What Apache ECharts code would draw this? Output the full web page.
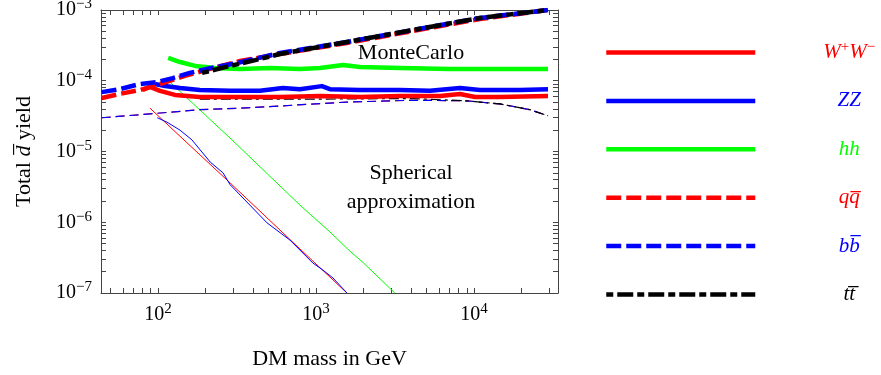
<!DOCTYPE html>
<html>
<head>
<meta charset="utf-8">
<script src="https://cdn.jsdelivr.net/npm/echarts@6/dist/echarts.min.js"></script>
<style>
  html, body { margin: 0; padding: 0; background: #fff; }
  #chart { width: 881px; height: 375px; }
</style>
</head>
<body>
<div id="chart"></div>
<script>
// MonteCarlo curves: [DM mass in GeV, total dbar yield]
const wwMC = [[80, 7.4e-5], [89, 8.2e-5], [103, 7.2e-5], [128, 6.3e-5], [184, 5.9e-5], [331, 5.9e-5], [591, 5.9e-5], [1058, 6.1e-5], [1898, 5.9e-5], [3397, 6.1e-5], [6090, 6.1e-5], [8150, 6.5e-5], [10150, 5.9e-5], [14580, 5.9e-5], [29400, 6.1e-5]];
const zzMC = [[96, 9.0e-5], [111, 8.4e-5], [138, 7.9e-5], [184, 7.4e-5], [286, 7.2e-5], [442, 7.2e-5], [617, 7.9e-5], [791, 7.6e-5], [1089, 8.4e-5], [1225, 7.6e-5], [1898, 7.4e-5], [3397, 7.4e-5], [5268, 7.2e-5], [8150, 7.9e-5], [10900, 7.4e-5], [19510, 7.4e-5], [29400, 7.6e-5]];
const hhMC = [[116, 2.1e-4], [138, 1.84e-4], [172, 1.62e-4], [230, 1.51e-4], [331, 1.47e-4], [511, 1.51e-4], [791, 1.47e-4], [1058, 1.51e-4], [1482, 1.67e-4], [1898, 1.56e-4], [3397, 1.51e-4], [7050, 1.47e-4], [29400, 1.47e-4]];
const qqMC = [[44, 5.7e-5], [57, 6.5e-5], [77, 7.4e-5], [103, 9.0e-5], [148, 1.17e-4], [214, 1.47e-4], [331, 1.9e-4], [591, 2.39e-4], [1570, 3.42e-4], [4110, 5.05e-4], [10900, 7.46e-4], [29400, 1.0e-3]];
const bbMC = [[44, 6.9e-5], [57, 7.6e-5], [77, 9.0e-5], [99, 9.6e-5], [124, 1.09e-4], [159, 1.29e-4], [214, 1.51e-4], [316, 1.78e-4], [591, 2.47e-4], [1570, 3.53e-4], [4110, 5.22e-4], [10900, 7.71e-4], [29400, 1.0e-3]];
const ttMC = [[190, 1.29e-4], [286, 1.62e-4], [442, 2.03e-4], [591, 2.39e-4], [1570, 3.53e-4], [4110, 5.22e-4], [10900, 7.71e-4], [29400, 1.0e-3]];

// spherical approximation curves
const wwSph = [[89, 4.1e-5], [144, 1.5e-5], [286, 3.6e-6], [791, 4.2e-7], [1570, 1.0e-7]];
const zzSph = [[99, 3.0e-5], [114, 2.6e-5], [138, 2.0e-5], [164, 1.46e-5], [214, 7.1e-6], [258, 5.0e-6], [286, 3.4e-6], [490, 9.8e-7], [684, 5.6e-7], [956, 2.65e-7], [1106, 2.11e-7], [1281, 1.63e-7], [1570, 1.0e-7]];
const hhSph = [[119, 9.6e-5], [294, 1.46e-5], [791, 1.75e-6], [1225, 7.3e-7], [1640, 3.9e-7], [1985, 2.7e-7], [3154, 1.0e-7]];
const qqSph = [[44, 3.0e-5], [89, 3.4e-5], [184, 3.9e-5], [331, 4.1e-5], [591, 4.4e-5], [1570, 5.0e-5], [4110, 5.3e-5], [9030, 5.2e-5], [14580, 4.7e-5], [22600, 3.9e-5], [29400, 3.2e-5]];
const bbSph = [[44, 3.0e-5], [89, 3.4e-5], [184, 3.9e-5], [331, 4.1e-5], [591, 4.4e-5], [1570, 5.0e-5], [4110, 5.3e-5], [9030, 5.2e-5], [14580, 4.7e-5], [22600, 3.9e-5], [29400, 3.2e-5]];
const ttSph = [[184, 5.5e-5], [331, 5.5e-5], [956, 5.5e-5], [4110, 5.6e-5], [9030, 5.2e-5], [14580, 4.7e-5], [22600, 3.9e-5], [29400, 3.2e-5]];

const xLabels = [100, 1000, 10000];
const yLabels = [1e-7, 1e-6, 1e-5, 1e-4, 1e-3];
const legendTexts = {
  WW: '{c|W}{s|+}{c|W}{s|\u2212}',
  ZZ: '{c|ZZ}',
  hh: '{c|hh}',
  qq: '{c|q}{c|q\u0305}',
  bb: '{c|b}{c|b\u0305}',
  tt: '{c|t}{c|t\u0305}'
};

const X_MIN = 43.6, X_MAX = 34000;
const serif = 'Liberation Serif';
const axisColor = '#444';
const RED = '#ff0000', BLUE = '#0000ff', GREEN = '#00ff00', BLACK = '#000000';

// ticks at 1..9 x 10^n
const xTicks = [];
for (let d = 1; d <= 4; d++) for (let m = 1; m <= 9; m++) {
  const v = m * Math.pow(10, d);
  if (v >= X_MIN && v <= X_MAX) xTicks.push(v);
}
const yTicks = [];
for (let d = -7; d <= -4; d++) for (let m = 1; m <= 9; m++) yTicks.push(m * Math.pow(10, d));
yTicks.push(1e-3);

function powLabel(v) {
  const e = Math.round(Math.log10(v));
  return '{b|10}{s|' + (e < 0 ? '\u2212' + (-e) : e) + '}';
}
const labelRich = {
  b: { fontFamily: serif, fontSize: 20, color: '#000', verticalAlign: 'bottom', lineHeight: 20 },
  s: { fontFamily: serif, fontSize: 15, color: '#000', verticalAlign: 'bottom', lineHeight: 15, padding: [0, 0, 8, 0] }
};

function frameAxis(pos, ticks, labels, extra) {
  return Object.assign({
    type: 'log', logBase: 10, position: pos,
    axisLine: { show: true, onZero: false, lineStyle: { color: axisColor, width: 1 } },
    axisTick: { show: true, inside: true, length: 5, customValues: ticks, lineStyle: { color: axisColor, width: 1 } },
    axisLabel: labels ? { show: true, customValues: labels, margin: pos === 'bottom' ? 12 : 9, formatter: powLabel, rich: labelRich } : { show: false },
    splitLine: { show: false },
    minorTick: { show: false }
  }, extra);
}

function line(name, data, color, width, type, z) {
  return {
    name, type: 'line', data, symbol: 'none', showSymbol: false, z,
    lineStyle: { color, width, type, join: 'round' },
    itemStyle: { color },
    silent: true, animation: false
  };
}

const chart = echarts.init(document.getElementById('chart'));
chart.setOption({
  animation: false,
  grid: { left: 101, top: 10, width: 457, height: 283, outerBoundsMode: 'none', containLabel: false },
  xAxis: [
    frameAxis('bottom', xTicks, xLabels, {
      min: X_MIN, max: X_MAX,
      name: 'DM mass in GeV', nameLocation: 'middle', nameGap: 55,
      nameTextStyle: { fontFamily: serif, fontSize: 22, color: '#000' }
    }),
    frameAxis('top', xTicks, null, { min: X_MIN, max: X_MAX })
  ],
  yAxis: [
    frameAxis('left', yTicks, yLabels, {
      min: 1e-7, max: 1e-3,
      name: '{a|Total }{d|d\u0305}{a| yield}', nameLocation: 'middle', nameRotate: 90, nameGap: 66,
      nameTextStyle: {
        fontFamily: serif, fontSize: 22, color: '#000',
        rich: {
          a: { fontFamily: serif, fontSize: 22, color: '#000' },
          d: { fontFamily: serif, fontSize: 22, fontStyle: 'italic', color: '#000' }
        }
      }
    }),
    frameAxis('right', yTicks, null, { min: 1e-7, max: 1e-3 })
  ],
  legend: {
    orient: 'vertical', left: 599, top: 35,
    itemWidth: 149, itemHeight: 20, itemGap: 27.4,
    itemStyle: { opacity: 0 },
    lineStyle: { width: 4.5 },
    selectedMode: false,
    data: [
      { name: 'WW', textStyle: { color: RED } },
      { name: 'ZZ', textStyle: { color: BLUE } },
      { name: 'hh', textStyle: { color: GREEN } },
      { name: 'qq', textStyle: { color: RED } },
      { name: 'bb', textStyle: { color: BLUE } },
      { name: 'tt', textStyle: { color: BLACK } }
    ],
    formatter: n => legendTexts[n],
    textStyle: {
      fontFamily: serif, fontSize: 21, width: 178,
      rich: {
        c: { fontFamily: serif, fontStyle: 'italic', fontSize: 21, align: 'center', verticalAlign: 'bottom', lineHeight: 21 },
        s: { fontFamily: serif, fontSize: 15, align: 'center', verticalAlign: 'bottom', lineHeight: 15, padding: [0, 0, 8, 0] }
      }
    }
  },
  graphic: [
    { type: 'text', x: 411, y: 53, style: { text: 'MonteCarlo', font: '22px "Liberation Serif"', fill: '#000', align: 'center', verticalAlign: 'middle' } },
    { type: 'text', x: 411, y: 173, style: { text: 'Spherical', font: '22px "Liberation Serif"', fill: '#000', align: 'center', verticalAlign: 'middle' } },
    { type: 'text', x: 411, y: 202, style: { text: 'approximation', font: '22px "Liberation Serif"', fill: '#000', align: 'center', verticalAlign: 'middle' } }
  ],
  series: [
    line('wwSph', wwSph, RED, 1, 'solid', 1),
    line('zzSph', zzSph, BLUE, 1, 'solid', 1),
    line('hhSph', hhSph, GREEN, 1, 'solid', 1),
    line('qqSph', qqSph, RED, 1.2, [9, 5], 1),
    line('bbSph', bbSph, BLUE, 1.2, [9, 5], 1),
    line('ttSph', ttSph, BLACK, 1.2, [10, 4, 3, 4], 1),
    line('WW', wwMC, RED, 4.5, 'solid', 2),
    line('ZZ', zzMC, BLUE, 4.5, 'solid', 2),
    line('hh', hhMC, GREEN, 4.5, 'solid', 2),
    line('qq', qqMC, RED, 4.5, [15, 5], 2),
    line('bb', bbMC, BLUE, 4.5, [15, 5], 2),
    line('tt', ttMC, BLACK, 4.5, [7, 4, 16, 4], 2)
  ]
});
</script>
</body>
</html>
